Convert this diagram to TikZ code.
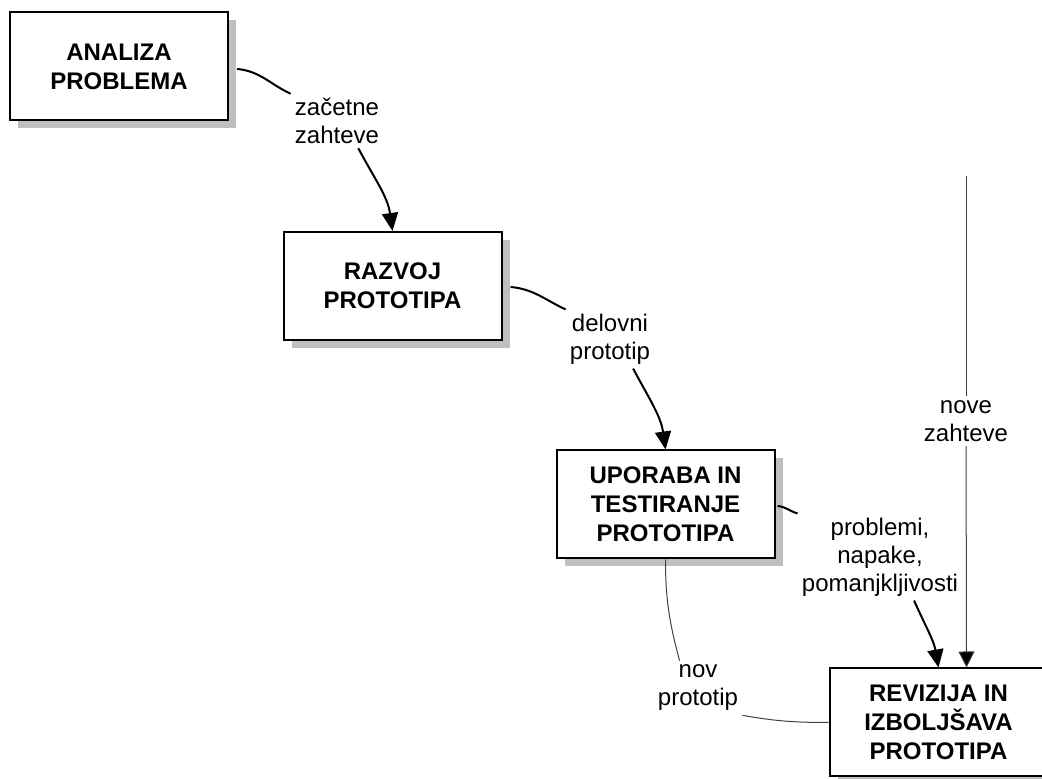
\documentclass[tikz,border=0pt]{standalone}
\usepackage{fontspec}
\setmainfont{Liberation Sans}
\usetikzlibrary{arrows.meta,shadows}

\begin{document}
\begin{tikzpicture}[
        x=0.5pt, y=0.5pt,
        phase/.style={rectangle, draw, line width=1pt, fill=white, minimum width=109pt, minimum height=54pt, align=center, font=\bfseries\fontsize{12}{14.5}\selectfont, drop shadow={shadow xshift=4pt, shadow yshift=-4pt, fill=black!25, opacity=1}},
        note/.style={align=center, inner sep=2pt, font=\fontsize{12}{14}\selectfont},
        flow/.style={line width=1pt},
        arrow/.style={flow, -{Triangle[length=9pt, width=8pt]}},
        thinflow/.style={line width=0.5pt, draw=black!75},
        thinarrow/.style={thinflow, -{Triangle[length=8pt, width=8pt, fill=black]}}
    ]
        \useasboundingbox (0,0) rectangle (1042,779);
        \clip (0,0) rectangle (1042,779);

        % The four phases, going down to the right
        \node[phase] (ph1) at (119,712.5) {ANALIZA\\PROBLEMA};
        \node[phase] (ph2) at (392.5,493) {RAZVOJ\\PROTOTIPA};
        \node[phase] (ph3) at (665.5,274.5) {UPORABA IN\\TESTIRANJE\\PROTOTIPA};
        \node[phase] (ph4) at (938.5,56.5) {REVIZIJA IN\\IZBOLJŠAVA\\PROTOTIPA};

        % Labels sitting in the connectors
        \node[note] (l1) at (337,658) {začetne\\zahteve};
        \node[note] (l2) at (610,440) {delovni\\prototip};
        \node[note] (l3) at (880,222) {problemi,\\napake,\\pomanjkljivosti};
        \node[note] (l4) at (966,358) {nove\\zahteve};
        \node[note] (l5) at (698,91) {nov\\prototip};

        % Free top end of the new requirements line
        \coordinate (nz) at (966,603);

        % Phase 1 to phase 2
        \draw[flow] ([shift={(8,-2.5)}]ph1.east) to[out=-5, in=155] (l1.north west);
        \draw[arrow] (l1.-52) to[out=-62, in=98] (ph2.north);

        % Phase 2 to phase 3
        \draw[flow] ([shift={(8,-1)}]ph2.east) to[out=-5, in=155] (l2.north west);
        \draw[arrow] (l2.-52) to[out=-62, in=98] (ph3.north);

        % Phase 3 to phase 4
        \draw[flow] ([shift={(2,-1.5)}]ph3.east) to[out=-5, in=165] (l3.north west);
        \draw[arrow] (l3.-52) to[out=-66, in=100] (ph4.north);

        % New requirements coming in from above
        \draw[thinflow] (nz) -- (l4);
        \draw[thinarrow] (l4) -- ([xshift=14pt]ph4.north);

        % New prototype going back
        \draw[thinflow] (ph3.south) to[out=-90, in=105] (l5.124);
        \draw[thinflow] (l5.south east) to[out=-10, in=180] (ph4.west);

    \end{tikzpicture}
\end{document}
